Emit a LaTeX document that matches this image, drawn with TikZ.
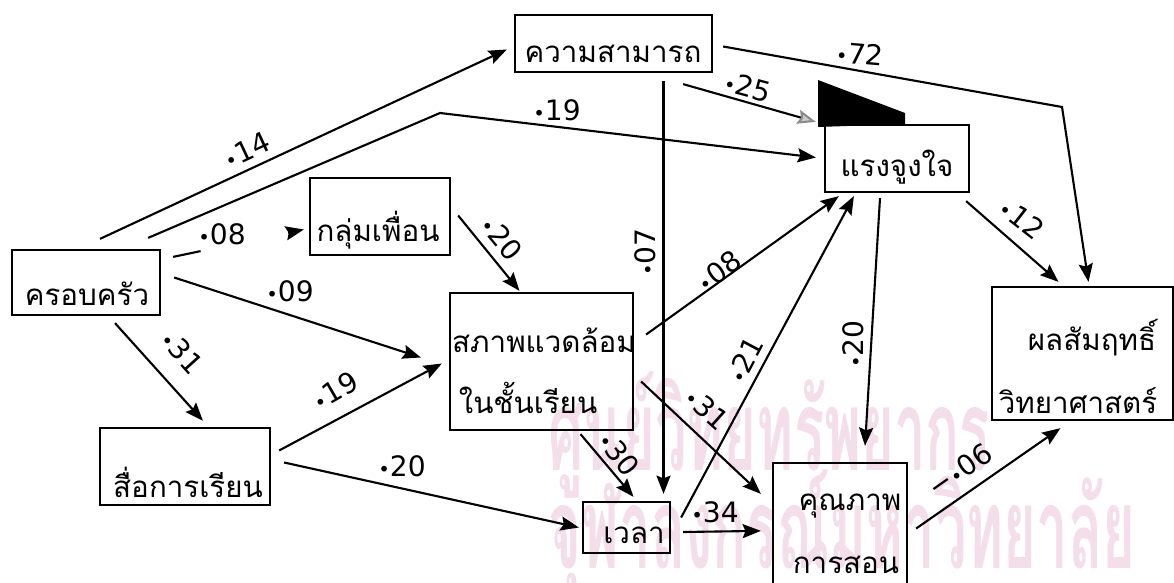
\documentclass[tikz,border=0pt]{standalone}
\usepackage{fontspec}
\usepackage{graphicx}
\setmainfont{DejaVu Sans}
\newfontfamily\thaifont[Script=Thai]{Loma}
\usetikzlibrary{arrows.meta,calc,fit}
\definecolor{wmpink}{RGB}{244,222,234}
\newcommand\dd{\scalebox{0.7}{•}}
\begin{document}
\begin{tikzpicture}[x=0.025cm,y=-0.025cm,
  box/.style={draw, line width=1.6pt, inner sep=0pt, rectangle},
  lbl/.style={font=\fontsize{20}{23}\selectfont, inner sep=1pt},
  th/.style={font=\thaifont\fontsize{21}{25}\selectfont, inner sep=0pt, anchor=base},
  arr/.style={line width=1.5pt, -{Stealth[length=13pt,width=10pt,inset=2pt]}},
  ln/.style={line width=1.5pt},
  wm/.style={text=wmpink, font=\thaifont\bfseries\fontsize{80}{90}\selectfont, inner sep=0pt, anchor=base west, xscale=0.5}
]
\fill[white] (0,0) rectangle (1174,583);
\useasboundingbox (0,0) rectangle (1174,583);

% watermark
\node[wm] (wm1) at (548,470) {ศูนย์วิทยทรัพยากร};
\node[wm] (wm2) at (548,568) {จุฬาลงกรณ์มหาวิทยาลัย};

% boxes
\node[box, fit={(515,15) (712,72)}] (abil) {};
\node[box, fit={(825,125) (969,192)}] (mot) {};
\node[box, fit={(12,250) (160,315)}] (fam) {};
\node[box, fit={(310,178) (450,255)}] (peer) {};
\node[box, fit={(450,293) (633,430)}] (env) {};
\node[box, fit={(100,428) (270,505)}] (media) {};
\node[box, fit={(583,502) (670,553)}] (time) {};
\node[box, fit={(773,463) (907,600)}] (qual) {};
\node[box, fit={(992,287) (1173,420)}] (ach) {};

% box texts
\node[th] (abilT) at (613,63) {ความสามารถ};
\node[th] (motT) at (897,177) {แรงจูงใจ};
\node[th] (famT) at (87,305) {ครอบครัว};
\node[th] (peerT) at (378,242) {กลุ่มเพื่อน};
\node[th] (envT1) at (544,352) {สภาพแวดล้อม};
\node[th] (envT2) at (528,413) {ในชั้นเรียน};
\node[th] (mediaT) at (188,497) {สื่อการเรียน};
\node[th] (timeT) at (634,543) {เวลา};
\node[th] (qualT1) at (850,510) {คุณภาพ};
\node[th] (qualT2) at (846,573) {การสอน};
\node[th] (achT1) at (1092,350) {ผลสัมฤทธิ์};
\node[th] (achT2) at (1078,413) {วิทยาศาสตร์};

% blotch
\fill[black] (818,80) -- (905,113) -- (905,124) -- (818,127) -- cycle;

% connectors
\draw[arr] ($(fam.north)+(14,-10)$) -- ($(abil.west)+(-7,6)$);
\coordinate (b19) at (440,113);
\draw[arr] ($(fam.north east)+(-13,-11)$) -- (b19) -- ($(mot.west)+(-8,-1)$);
\coordinate (s08) at ($(fam.north east)+(12,8)$);
\coordinate (e08) at ($(peer.west)+(-5,13)$);
\draw[ln] (s08) -- ($(s08)!0.21!(e08)$);
\draw[arr] ($(s08)!0.88!(e08)$) -- (e08);
\draw[arr] ($(fam.east)+(13,-5)$) -- ($(env.west)+(-28,-4)$);
\draw[arr] ($(fam.south)+(29,7)$) -- ($(media.north)+(18,-6)$);
\draw[arr] ($(peer.east)+(7,-1)$) -- ($(env.north)+(-22,-1)$);
\draw[arr] ($(media.east)+(8,-16)$) -- ($(env.west)+(-7,2)$);
\draw[arr] ($(media.east)+(13,-4)$) -- ($(time.west)+(-3,0)$);
\draw[arr] ($(abil.south)+(50,8)$) -- ($(time.north)+(37,-7)$);
\draw[line width=1.5pt, -{Stealth[length=13pt,width=10pt,inset=2pt,color=black!45,fill=black!20]}] ($(abil.south east)+(-30,11)$) -- ($(mot.north west)+(-8,-2)$);
\coordinate (b72) at (1062,107);
\draw[arr] ($(abil.east)+(10,3)$) -- (b72) -- ($(ach.north)+(6,-4)$);
\draw[arr] ($(env.east)+(12,-27)$) -- ($(mot.south west)+(15,3)$);
\draw[arr] ($(env.south)+(39,3)$) -- ($(time.north)+(7,-4)$);
\draw[arr] ($(env.east)+(7,20)$) -- ($(qual.north west)+(-11,32)$);
\draw[arr] ($(time.east)+(10,-10)$) -- ($(mot.south west)+(30,3)$);
\draw[arr] ($(time.east)+(12,4.5)$) -- ($(qual.north west)+(-11,69)$);
\draw[arr] ($(mot.south)+(-17,5)$) -- ($(qual.north)+(25,-16)$);
\draw[arr] ($(mot.south east)+(-4,8)$) -- ($(ach.north)+(-24,-4)$);
\draw[arr] ($(qual.east)+(8,-3)$) -- ($(ach.south)+(-22,7)$);

% labels
\node[lbl, rotate=25] (l14) at (247,150) {\dd14};
\node[lbl] (l19a) at (557,110) {\dd19};
\node[lbl] (l08a) at (222,234) {\dd08};
\node[lbl] (l09) at (290,291) {\dd09};
\node[lbl, rotate=-48] (l31a) at (182,352) {\dd31};
\node[lbl, rotate=-50] (l20a) at (502,238) {\dd20};
\node[lbl, rotate=30] (l19b) at (335,391) {\dd19};
\node[lbl] (l20b) at (402,466) {\dd20};
\node[lbl, rotate=90] (l07) at (645,252) {\dd07};
\node[lbl, rotate=-15] (l25) at (748,87) {\dd25};
\node[lbl, rotate=-5] (l72) at (860,54) {\dd72};
\node[lbl, rotate=36] (l08b) at (719,271) {\dd08};
\node[lbl, rotate=-52] (l30) at (619,454) {\dd30};
\node[lbl, rotate=-42] (l31b) at (707,409) {\dd31};
\node[lbl, rotate=62] (l21) at (745,360) {\dd21};
\node[lbl] (l34) at (715,512) {\dd34};
\node[lbl, rotate=90] (l20c) at (853,344) {\dd20};
\node[lbl, rotate=-38] (l12) at (1022,219) {\dd12};
\node[lbl, rotate=35] (l06) at (960,470) {−\dd06};
\end{tikzpicture}
\end{document}
